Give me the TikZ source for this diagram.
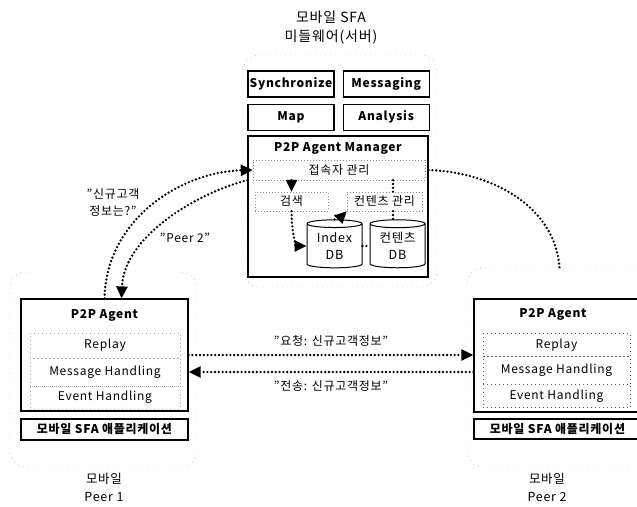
\documentclass[tikz,border=0pt]{standalone}
\usepackage{fontspec}
\setmainfont{Noto Sans CJK KR}[LetterSpace=6]
\usetikzlibrary{arrows.meta,shapes.geometric,positioning}

\begin{document}
\begin{tikzpicture}[x=1pt,y=-1pt,>={Triangle[length=12pt,width=11pt]},
                    font=\fontsize{12}{14}\selectfont,inner sep=0pt]
  \tikzstyle{frame}=[draw=black!35,dash pattern=on 1pt off 4pt,rounded corners=16pt]
  \tikzstyle{block}=[draw=black,line width=1.2pt]
  \tikzstyle{heading}=[font=\fontsize{12}{14}\selectfont\bfseries]
  \tikzstyle{module}=[block,heading,minimum width=86pt,minimum height=26pt]
  \tikzstyle{task}=[draw=black!45,dash pattern=on 1pt off 2pt,minimum height=19pt]
  \tikzstyle{db}=[cylinder,shape border rotate=90,aspect=0.22,draw=black,line width=1pt,
                  minimum width=55pt,minimum height=48pt,align=center,font=\fontsize{12.5}{17}\selectfont]
  \tikzstyle{row}=[draw=black!35,dash pattern=on 1pt off 3pt,minimum width=150pt]
  \tikzstyle{flow}=[line width=2.6pt,line cap=round,dash pattern=on 0pt off 3.8pt]

  \useasboundingbox (0,0) rectangle (637,506);

  % middleware server
  \node[align=center,font=\fontsize{14}{19}\selectfont] (server) at (331,28) {모바일 SFA\\미들웨어(서버)};
  \node[frame,minimum width=194pt,minimum height=232pt] (frameS) at (340,171) {};
  \node[module] (sync) at (291,84) {Synchronize};
  \node[module] (messaging) [right=8pt of sync] {Messaging};
  \node[module] (map) [below=6pt of sync] {Map};
  \node[module] (analysis) [right=8pt of map] {Analysis};
  \node[block,minimum width=180pt,minimum height=141pt] (mgr) at (338,206.5) {};
  \node[heading] (mgrTitle) at (338,148) {P2P Agent Manager};
  \node[task,minimum width=172pt,minimum height=20pt] (jeopsok) at (339,170) {접속자 관리};
  \node[task,minimum width=73pt] (geomsaek) at (291.5,201.5) {검색};
  \node[task,minimum width=75pt] (cmgmt) at (384.5,201.5) {컨텐츠 관리};
  \node[db] (indexDB) at (334.5,246) {Index\\DB};
  \node[db] (contentsDB) at (397.5,246) {컨텐츠\\DB};

  % mobile peer 1
  \node[frame,minimum width=187pt,minimum height=195pt] (frameA) at (103.5,369.5) {};
  \node[block,minimum width=167pt,minimum height=112pt] (agentA) at (104.5,355) {};
  \node[heading] (titleA) at (104.5,315) {P2P Agent};
  \node[row,minimum height=25pt] (replayA) at (105,345.5) {Replay};
  \node[row,minimum height=28pt] (msgA) at (105,372) {Message Handling};
  \node[row,minimum height=23pt] (eventA) at (105,397.5) {Event Handling};
  \node[block,heading,minimum width=167pt,minimum height=21pt] (appA) at (104.5,429.5) {모바일 SFA 애플리케이션};
  \node[align=center,font=\fontsize{12.5}{18}\selectfont] (peerA) at (104,487) {모바일\\Peer 1};

  % mobile peer 2
  \node[frame,minimum width=185pt,minimum height=199pt] (frameB) at (559.5,367.5) {};
  \node[block,minimum width=167pt,minimum height=113pt] (agentB) at (557.5,355.5) {};
  \node[heading] (titleB) at (553,314) {P2P Agent};
  \node[row,draw=black!60,minimum width=147pt,minimum height=23pt] (replayB) at (556.5,345) {Replay};
  \node[row,draw=black!60,minimum width=147pt,minimum height=28pt] (msgB) at (556.5,370.5) {Message Handling};
  \node[row,draw=black!60,minimum width=147pt,minimum height=23pt] (eventB) at (556.5,396) {Event Handling};
  \node[block,heading,minimum width=167pt,minimum height=20pt] (appB) at (557.5,429) {모바일 SFA 애플리케이션};
  \node[align=center,font=\fontsize{12.5}{18}\selectfont] (peerB) at (547,487) {모바일\\Peer 2};

  % flows inside the manager
  \draw[flow,->] (jeopsok.south -| geomsaek.north) -- (geomsaek.north);
  \draw[flow,->] (geomsaek.south) .. controls +(0,22) and +(-10,0) .. (indexDB.west);
  \draw[flow,->] (indexDB.north) .. controls +(0,-8) and +(-4,4) .. (cmgmt.south west);
  \draw[flow] (indexDB.east) -- (contentsDB.west);
  \draw[flow] (jeopsok.south -| 393,0) -- (cmgmt.north -| 393,0);
  \draw[flow] (cmgmt.south -| 393,0) -- (contentsDB.north -| 393,0);

  % flows between peers and server
  \draw[flow,->] (agentA.north) .. controls (106,220) and (180,172) .. (jeopsok.west);
  \draw[flow,->] (mgr.west |- jeopsok.south) .. controls (200,192) and (124,235) .. ([xshift=17pt]agentA.north);
  \draw[flow] (mgr.east |- jeopsok.west) .. controls (490,172) and (555,205) .. (frameB.north);
  \node[align=center,font=\fontsize{12}{17}\selectfont] (askLabel) at (113,203) {"신규고객\\정보는?"};
  \node (peerLabel) at (185,238) {"Peer 2"};

  \draw[flow,->] (agentA.east) -- node[above=7pt] (reqLabel) {"요청: 신규고객정보"} (agentA.east -| agentB.west);
  \draw[flow,->] (agentB.west |- msgA) -- node[below=7pt] (sendLabel) {"전송: 신규고객정보"} (agentA.east |- msgA);
\end{tikzpicture}
\end{document}
